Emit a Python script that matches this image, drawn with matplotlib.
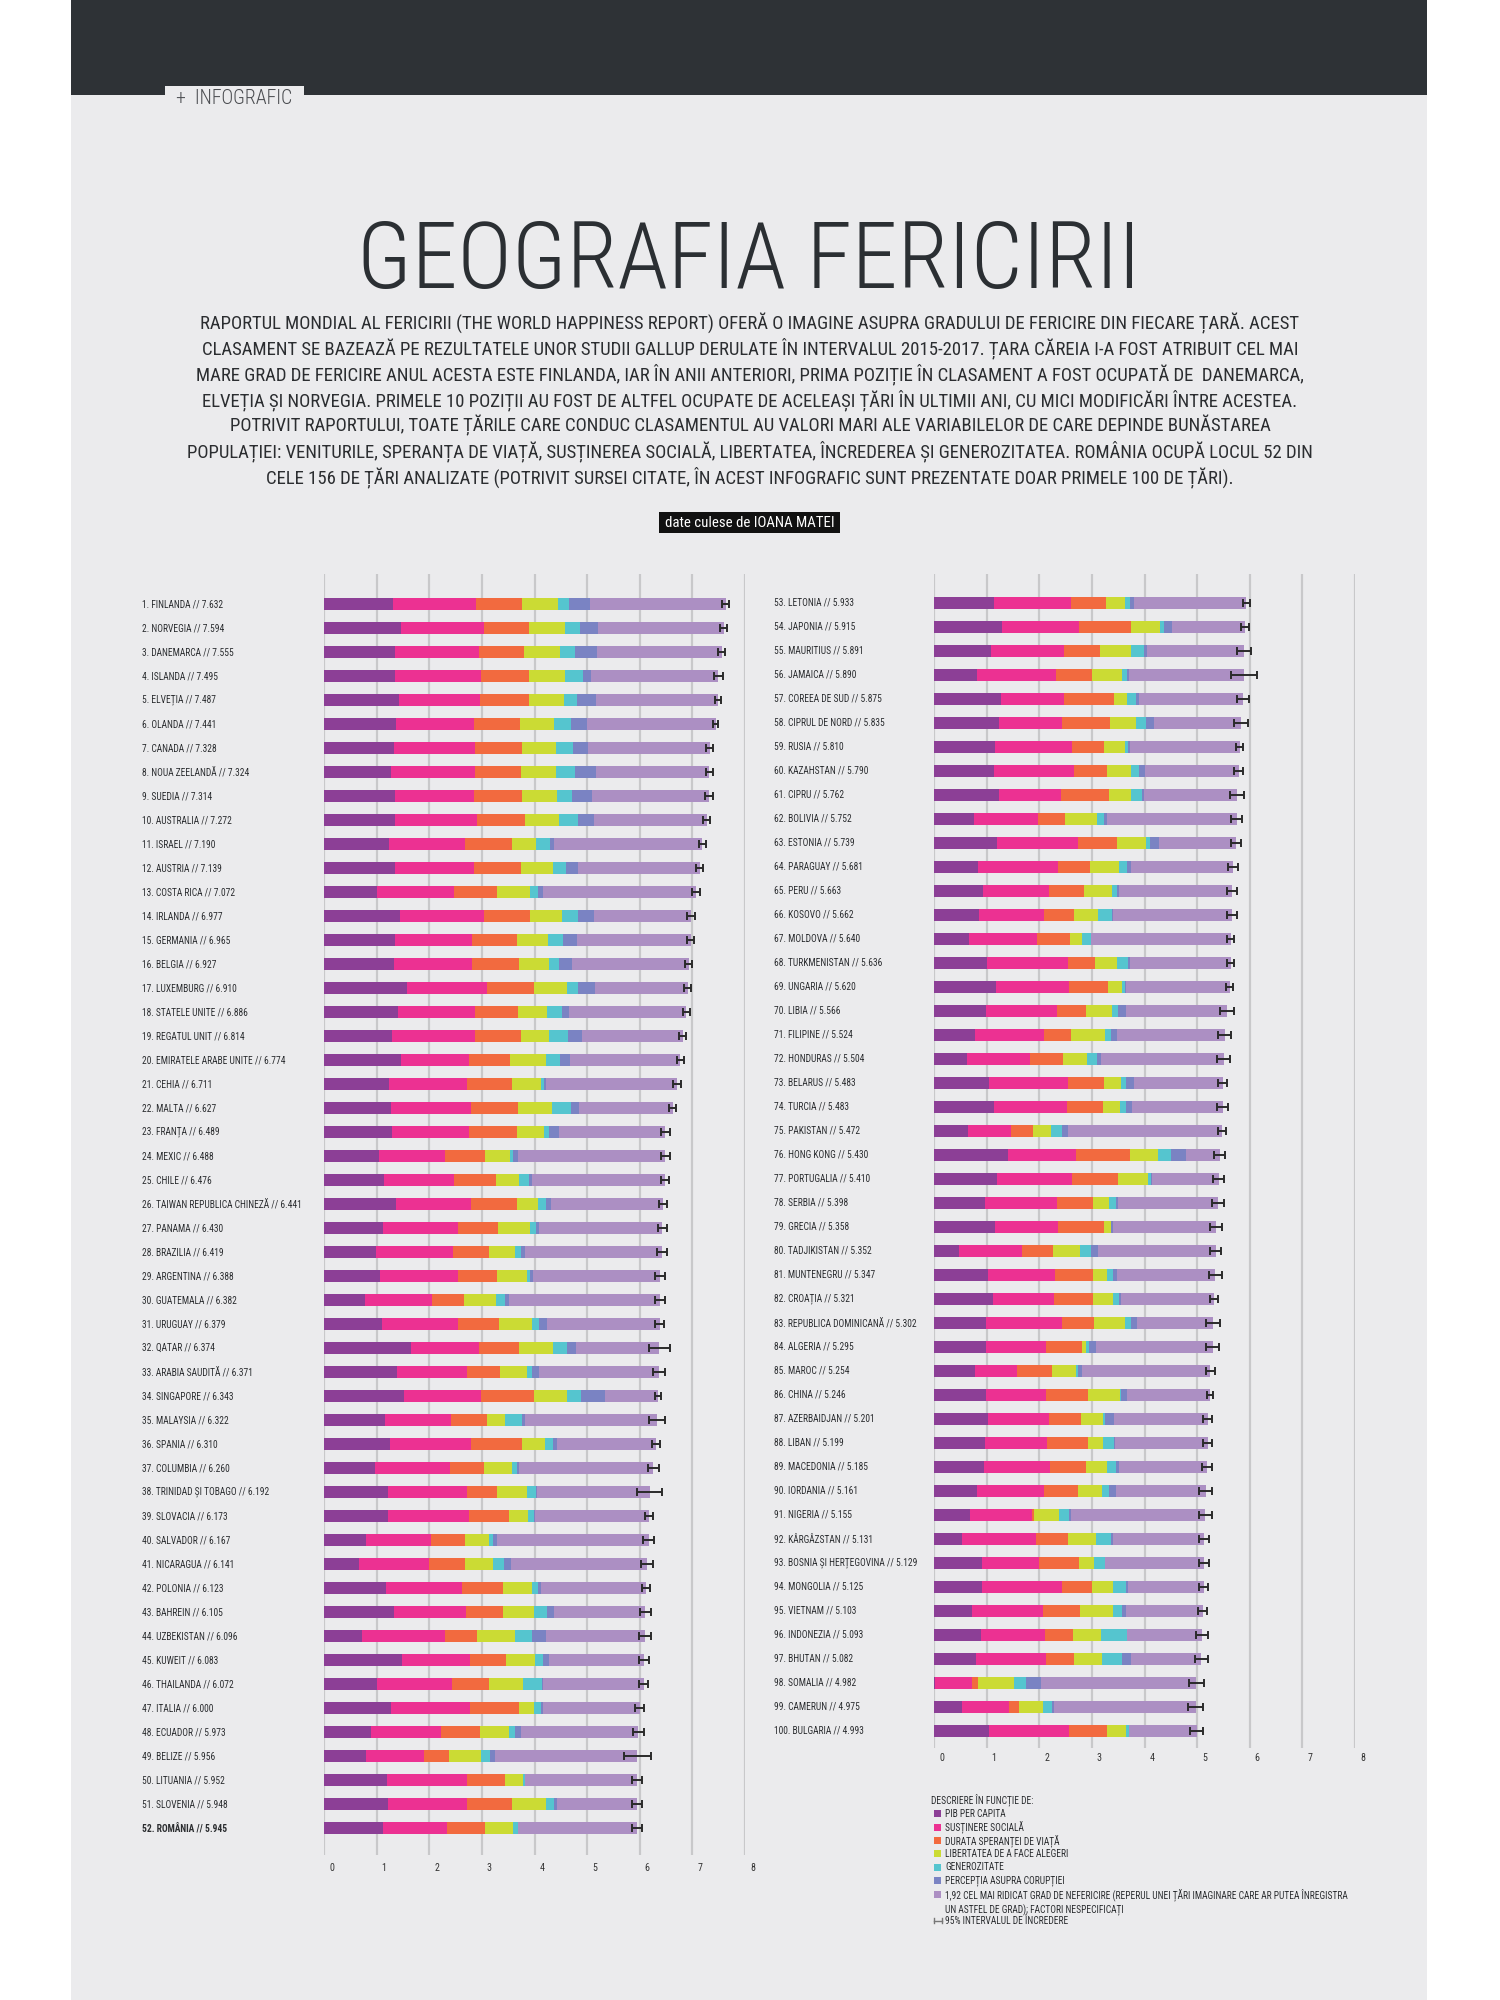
import matplotlib
matplotlib.use("Agg")
import matplotlib.pyplot as plt
from matplotlib import font_manager
from matplotlib.patches import Rectangle
from matplotlib.lines import Line2D
from matplotlib.transforms import ScaledTranslation, blended_transform_factory

# ---------------- DATA ----------------
names = [
    "FINLANDA", "NORVEGIA", "DANEMARCA", "ISLANDA", "ELVEȚIA", "OLANDA", "CANADA",
    "NOUA ZEELANDĂ", "SUEDIA", "AUSTRALIA", "ISRAEL", "AUSTRIA", "COSTA RICA",
    "IRLANDA", "GERMANIA", "BELGIA", "LUXEMBURG", "STATELE UNITE", "REGATUL UNIT",
    "EMIRATELE ARABE UNITE", "CEHIA", "MALTA", "FRANȚA", "MEXIC", "CHILE",
    "TAIWAN REPUBLICA CHINEZĂ", "PANAMA", "BRAZILIA", "ARGENTINA", "GUATEMALA",
    "URUGUAY", "QATAR", "ARABIA SAUDITĂ", "SINGAPORE", "MALAYSIA", "SPANIA",
    "COLUMBIA", "TRINIDAD ȘI TOBAGO", "SLOVACIA", "SALVADOR", "NICARAGUA",
    "POLONIA", "BAHREIN", "UZBEKISTAN", "KUWEIT", "THAILANDA", "ITALIA", "ECUADOR",
    "BELIZE", "LITUANIA", "SLOVENIA", "ROMÂNIA",
    "LETONIA", "JAPONIA", "MAURITIUS", "JAMAICA", "COREEA DE SUD", "CIPRUL DE NORD",
    "RUSIA", "KAZAHSTAN", "CIPRU", "BOLIVIA", "ESTONIA", "PARAGUAY", "PERU",
    "KOSOVO", "MOLDOVA", "TURKMENISTAN", "UNGARIA", "LIBIA", "FILIPINE", "HONDURAS",
    "BELARUS", "TURCIA", "PAKISTAN", "HONG KONG", "PORTUGALIA", "SERBIA", "GRECIA",
    "TADJIKISTAN", "MUNTENEGRU", "CROAȚIA", "REPUBLICA DOMINICANĂ", "ALGERIA",
    "MAROC", "CHINA", "AZERBAIDJAN", "LIBAN", "MACEDONIA", "IORDANIA", "NIGERIA",
    "KÂRGÂZSTAN", "BOSNIA ȘI HERȚEGOVINA", "MONGOLIA", "VIETNAM", "INDONEZIA",
    "BHUTAN", "SOMALIA", "CAMERUN", "BULGARIA",
]
scores = [
    7.632, 7.594, 7.555, 7.495, 7.487, 7.441, 7.328, 7.324, 7.314, 7.272, 7.190, 7.139,
    7.072, 6.977, 6.965, 6.927, 6.910, 6.886, 6.814, 6.774, 6.711, 6.627, 6.489, 6.488,
    6.476, 6.441, 6.430, 6.419, 6.388, 6.382, 6.379, 6.374, 6.371, 6.343, 6.322, 6.310,
    6.260, 6.192, 6.173, 6.167, 6.141, 6.123, 6.105, 6.096, 6.083, 6.072, 6.000, 5.973,
    5.956, 5.952, 5.948, 5.945,
    5.933, 5.915, 5.891, 5.890, 5.875, 5.835, 5.810, 5.790, 5.762, 5.752, 5.739, 5.681,
    5.663, 5.662, 5.640, 5.636, 5.620, 5.566, 5.524, 5.504, 5.483, 5.483, 5.472, 5.430,
    5.410, 5.398, 5.358, 5.352, 5.347, 5.321, 5.302, 5.295, 5.254, 5.246, 5.201, 5.199,
    5.185, 5.161, 5.155, 5.131, 5.129, 5.125, 5.103, 5.093, 5.082, 4.982, 4.975, 4.993,
]
gdp = [
    1.305, 1.456, 1.351, 1.343, 1.420, 1.361, 1.330, 1.268, 1.355, 1.340, 1.244, 1.341,
    1.010, 1.448, 1.340, 1.324, 1.576, 1.398, 1.301, 1.460, 1.233, 1.270, 1.293, 1.038,
    1.131, 1.365, 1.112, 0.986, 1.073, 0.781, 1.093, 1.649, 1.379, 1.529, 1.161, 1.251,
    0.960, 1.223, 1.210, 0.806, 0.668, 1.176, 1.338, 0.719, 1.474, 1.016, 1.264, 0.889,
    0.807, 1.197, 1.219, 1.116,
    1.148, 1.294, 1.090, 0.819, 1.266, 1.229, 1.151, 1.143, 1.229, 0.751, 1.200, 0.835,
    0.934, 0.855, 0.657, 1.016, 1.171, 0.985, 0.775, 0.620, 1.039, 1.148, 0.652, 1.405,
    1.188, 0.975, 1.154, 0.474, 1.017, 1.115, 0.990, 0.979, 0.779, 0.989, 1.024, 0.970,
    0.959, 0.822, 0.689, 0.530, 0.915, 0.914, 0.715, 0.899, 0.796, 0.010, 0.535, 1.054,
]
social = [
    1.592, 1.582, 1.590, 1.644, 1.549, 1.488, 1.532, 1.601, 1.501, 1.573, 1.433, 1.504,
    1.459, 1.583, 1.474, 1.483, 1.520, 1.471, 1.559, 1.300, 1.489, 1.525, 1.466, 1.252,
    1.331, 1.436, 1.438, 1.474, 1.468, 1.268, 1.459, 1.303, 1.331, 1.451, 1.258, 1.538,
    1.439, 1.492, 1.537, 1.231, 1.319, 1.448, 1.366, 1.584, 1.301, 1.417, 1.501, 1.330,
    1.101, 1.527, 1.506, 1.219,
    1.454, 1.462, 1.387, 1.493, 1.204, 1.211, 1.479, 1.516, 1.191, 1.223, 1.532, 1.522,
    1.249, 1.230, 1.301, 1.533, 1.401, 1.350, 1.312, 1.205, 1.498, 1.380, 0.810, 1.290,
    1.429, 1.369, 1.202, 1.190, 1.279, 1.161, 1.440, 1.154, 0.797, 1.142, 1.161, 1.170,
    1.239, 1.265, 1.172, 1.416, 1.078, 1.517, 1.365, 1.215, 1.335, 0.712, 0.891, 1.515,
]
health = [
    0.874, 0.861, 0.868, 0.914, 0.927, 0.878, 0.896, 0.876, 0.913, 0.910, 0.888, 0.891,
    0.817, 0.876, 0.861, 0.894, 0.896, 0.819, 0.883, 0.780, 0.854, 0.884, 0.908, 0.761,
    0.808, 0.857, 0.759, 0.675, 0.744, 0.608, 0.771, 0.748, 0.633, 1.008, 0.669, 0.965,
    0.635, 0.564, 0.776, 0.639, 0.700, 0.781, 0.698, 0.605, 0.675, 0.707, 0.946, 0.736,
    0.474, 0.716, 0.856, 0.726,
    0.671, 0.988, 0.684, 0.693, 0.955, 0.909, 0.599, 0.631, 0.909, 0.508, 0.737, 0.615,
    0.674, 0.578, 0.620, 0.517, 0.732, 0.553, 0.513, 0.622, 0.700, 0.686, 0.424, 1.030,
    0.884, 0.685, 0.879, 0.600, 0.729, 0.737, 0.610, 0.687, 0.669, 0.799, 0.603, 0.780,
    0.691, 0.645, 0.048, 0.594, 0.758, 0.575, 0.702, 0.522, 0.527, 0.115, 0.182, 0.712,
]
freedom = [
    0.681, 0.686, 0.683, 0.677, 0.660, 0.638, 0.653, 0.669, 0.659, 0.647, 0.464, 0.617,
    0.632, 0.614, 0.586, 0.583, 0.632, 0.547, 0.533, 0.670, 0.543, 0.645, 0.520, 0.479,
    0.431, 0.418, 0.597, 0.493, 0.570, 0.604, 0.625, 0.654, 0.509, 0.631, 0.356, 0.449,
    0.531, 0.575, 0.354, 0.461, 0.527, 0.546, 0.594, 0.724, 0.554, 0.637, 0.281, 0.556,
    0.593, 0.350, 0.633, 0.528,
    0.363, 0.553, 0.584, 0.575, 0.244, 0.495, 0.399, 0.454, 0.423, 0.606, 0.553, 0.541,
    0.530, 0.448, 0.232, 0.417, 0.259, 0.496, 0.643, 0.459, 0.307, 0.324, 0.334, 0.524,
    0.562, 0.288, 0.131, 0.510, 0.259, 0.380, 0.590, 0.077, 0.460, 0.597, 0.430, 0.300,
    0.394, 0.468, 0.462, 0.540, 0.280, 0.395, 0.618, 0.538, 0.541, 0.674, 0.454, 0.359,
]
generosity = [
    0.202, 0.286, 0.284, 0.353, 0.256, 0.333, 0.321, 0.365, 0.285, 0.361, 0.262, 0.242,
    0.143, 0.307, 0.273, 0.188, 0.196, 0.291, 0.354, 0.280, 0.064, 0.376, 0.098, 0.069,
    0.197, 0.151, 0.125, 0.110, 0.062, 0.179, 0.130, 0.256, 0.098, 0.261, 0.311, 0.142,
    0.099, 0.171, 0.118, 0.065, 0.208, 0.108, 0.243, 0.328, 0.167, 0.364, 0.137, 0.114,
    0.183, 0.026, 0.160, 0.088,
    0.092, 0.079, 0.245, 0.096, 0.175, 0.179, 0.065, 0.148, 0.202, 0.141, 0.086, 0.162,
    0.092, 0.274, 0.171, 0.199, 0.061, 0.116, 0.120, 0.197, 0.101, 0.106, 0.216, 0.246,
    0.055, 0.134, 0.000, 0.200, 0.111, 0.120, 0.110, 0.055, 0.026, 0.029, 0.031, 0.200,
    0.173, 0.130, 0.201, 0.281, 0.216, 0.253, 0.177, 0.484, 0.364, 0.238, 0.183, 0.064,
]
corruption = [
    0.393, 0.340, 0.408, 0.138, 0.357, 0.295, 0.291, 0.389, 0.383, 0.302, 0.082, 0.224,
    0.101, 0.306, 0.280, 0.240, 0.321, 0.133, 0.272, 0.190, 0.034, 0.142, 0.176, 0.095,
    0.061, 0.078, 0.063, 0.088, 0.054, 0.071, 0.155, 0.171, 0.127, 0.457, 0.059, 0.074,
    0.039, 0.019, 0.014, 0.082, 0.128, 0.064, 0.123, 0.259, 0.106, 0.029, 0.028, 0.120,
    0.089, 0.006, 0.051, 0.001,
    0.066, 0.150, 0.050, 0.031, 0.051, 0.154, 0.025, 0.121, 0.035, 0.054, 0.174, 0.074,
    0.034, 0.023, 0.000, 0.037, 0.022, 0.148, 0.105, 0.074, 0.154, 0.109, 0.113, 0.291,
    0.017, 0.043, 0.034, 0.140, 0.081, 0.039, 0.110, 0.135, 0.074, 0.103, 0.176, 0.027,
    0.052, 0.134, 0.032, 0.035, 0.000, 0.032, 0.079, 0.018, 0.171, 0.282, 0.043, 0.009,
]
ci_half = [
    0.06, 0.06, 0.06, 0.09, 0.06, 0.05, 0.07, 0.07, 0.07, 0.07, 0.07, 0.07,
    0.07, 0.07, 0.06, 0.07, 0.06, 0.07, 0.07, 0.07, 0.07, 0.07, 0.08, 0.08,
    0.08, 0.08, 0.09, 0.09, 0.10, 0.10, 0.08, 0.20, 0.11, 0.06, 0.15, 0.07,
    0.10, 0.24, 0.08, 0.11, 0.12, 0.08, 0.10, 0.11, 0.10, 0.09, 0.09, 0.11,
    0.25, 0.09, 0.10, 0.10,
    0.07, 0.08, 0.13, 0.25, 0.11, 0.13, 0.07, 0.09, 0.13, 0.11, 0.09, 0.10,
    0.10, 0.10, 0.07, 0.06, 0.07, 0.14, 0.12, 0.13, 0.08, 0.11, 0.07, 0.10,
    0.11, 0.11, 0.11, 0.10, 0.12, 0.08, 0.14, 0.13, 0.09, 0.06, 0.08, 0.09,
    0.09, 0.12, 0.12, 0.10, 0.10, 0.08, 0.08, 0.12, 0.12, 0.14, 0.14, 0.12,
]
x_ticks = [0, 1, 2, 3, 4, 5, 6, 7, 8]
legend_labels = [
    "PIB PER CAPITA",
    "SUSȚINERE SOCIALĂ",
    "DURATA SPERANȚEI DE VIAȚĂ",
    "LIBERTATEA DE A FACE ALEGERI",
    "GENEROZITATE",
    "PERCEPȚIA ASUPRA CORUPȚIEI",
    "1,92 CEL MAI RIDICAT GRAD DE NEFERICIRE (REPERUL UNEI ȚĂRI IMAGINARE CARE AR PUTEA ÎNREGISTRA\nUN ASTFEL DE GRAD); FACTORI NESPECIFICAȚI",
]
title = "GEOGRAFIA FERICIRII"
intro_lines = [
    "RAPORTUL MONDIAL AL FERICIRII (THE WORLD HAPPINESS REPORT) OFERĂ O IMAGINE ASUPRA GRADULUI DE FERICIRE DIN FIECARE ȚARĂ. ACEST",
    "CLASAMENT SE BAZEAZĂ PE REZULTATELE UNOR STUDII GALLUP DERULATE ÎN INTERVALUL 2015-2017. ȚARA CĂREIA I-A FOST ATRIBUIT CEL MAI",
    "MARE GRAD DE FERICIRE ANUL ACESTA ESTE FINLANDA, IAR ÎN ANII ANTERIORI, PRIMA POZIȚIE ÎN CLASAMENT A FOST OCUPATĂ DE  DANEMARCA,",
    "ELVEȚIA ȘI NORVEGIA. PRIMELE 10 POZIȚII AU FOST DE ALTFEL OCUPATE DE ACELEAȘI ȚĂRI ÎN ULTIMII ANI, CU MICI MODIFICĂRI ÎNTRE ACESTEA.",
    "POTRIVIT RAPORTULUI, TOATE ȚĂRILE CARE CONDUC CLASAMENTUL AU VALORI MARI ALE VARIABILELOR DE CARE DEPINDE BUNĂSTAREA",
    "POPULAȚIEI: VENITURILE, SPERANȚA DE VIAȚĂ, SUSȚINEREA SOCIALĂ, LIBERTATEA, ÎNCREDEREA ȘI GENEROZITATEA. ROMÂNIA OCUPĂ LOCUL 52 DIN",
    "CELE 156 DE ȚĂRI ANALIZATE (POTRIVIT SURSEI CITATE, ÎN ACEST INFOGRAFIC SUNT PREZENTATE DOAR PRIMELE 100 DE ȚĂRI).",
]

# ---------------- STYLE ----------------
COLORS = ["#8C3F96", "#EC3192", "#F26A3F", "#CBDB34", "#55C5CF", "#7A83C3", "#AC8FC3"]
BG = "#EBEBED"
HEADER = "#2E3236"
GRID = "#C8C8CA"
TEXT = "#2B2D30"

avail = {f.name for f in font_manager.fontManager.ttflist}
dejavu_cond = any(f.name == "DejaVu Sans" and "condensed" in str(f.stretch)
                  for f in font_manager.fontManager.ttflist)
NARROW = None
for cand in ["Roboto Condensed", "Liberation Sans Narrow", "Open Sans Condensed",
             "Noto Sans Condensed", "DejaVu Sans Condensed"]:
    if cand in avail:
        NARROW = dict(family=cand)
        break
if NARROW is None:
    if dejavu_cond:
        NARROW = dict(family="DejaVu Sans", stretch="condensed")
    else:
        NARROW = dict(family="Liberation Sans")

W, H = 1500, 2000
fig = plt.figure(figsize=(15, 20), dpi=100)
fig.patch.set_facecolor("white")


def fx(px):
    return px / W


def fy(py):
    return 1 - py / H


def rect(x0, y0, x1, y1, color, z=0):
    fig.patches.append(Rectangle((fx(x0), fy(y1)), fx(x1) - fx(x0), fy(y0) - fy(y1),
                                 transform=fig.transFigure, facecolor=color,
                                 edgecolor="none", zorder=z))


# page background, header and tab
rect(71, 0, 1427, 2000, BG, z=-3)
rect(71, 0, 1427, 95, HEADER, z=-2)
rect(165, 86, 304, 96, BG, z=-1)

renderer = fig.canvas.get_renderer()


def fit(t, target_w):
    bb = t.get_window_extent(renderer)
    t.set_fontsize(t.get_fontsize() * target_w / bb.width)
    return t.get_fontsize()


tab = fig.text(fx(176), fy(99), "+  INFOGRAFIC", color="#4A4C50", va="center",
               ha="left", fontsize=9, fontweight="light", **NARROW)
fit(tab, 117)

tt = fig.text(fx(749), fy(288), title, ha="center", va="baseline", color="#2B2F33",
              fontsize=60, fontweight="light", **NARROW)
fit(tt, 785)

para = []
for k, line in enumerate(intro_lines):
    t = fig.text(fx(750), fy(329 + 25.7 * k), line, ha="center", va="baseline",
                 color=TEXT, fontsize=12, **NARROW)
    para.append(t)
psize = fit(para[0], 1098)
for t in para[1:]:
    t.set_fontsize(psize)

rect(659, 512, 840, 533, "#111111", z=1)
cred = fig.text(fx(749.5), fy(523), "date culese de IOANA MATEI", ha="center",
                va="center", color="white", fontsize=10, zorder=2, **NARROW)
fit(cred, 168)

# label size derived from a reference label
probe = fig.text(0, 0, "1. FINLANDA // 7.632", fontsize=8, **NARROW)
LSIZE = fit(probe, 82)
probe.remove()

# ---------------- CHART PANELS ----------------
components = [gdp, social, health, freedom, generosity, corruption]
n_left = 52
panels = [
    dict(rows=range(0, n_left), x0=324, top=574, bottom=1855, first=604, label_x=142,
         tick_pad=5.5),
    dict(rows=range(n_left, len(names)), x0=934, top=574, bottom=1748, first=603,
         label_x=774, tick_pad=3.5),
]
STEP = 24.0
for p in panels:
    ax = fig.add_axes([fx(p["x0"]), fy(p["bottom"]), 421 / W,
                       (p["bottom"] - p["top"]) / H])
    ax.set_facecolor("none")
    ax.set_xlim(x_ticks[0], x_ticks[-1])
    ax.set_ylim((p["bottom"] - p["first"]) / STEP, -(p["first"] - p["top"]) / STEP)
    for s in ax.spines.values():
        s.set_visible(False)
    ax.set_yticks([])
    ax.set_xticks(x_ticks)
    ax.set_xticklabels([str(v) for v in x_ticks], fontsize=LSIZE * 1.05, color="#333333",
                       **NARROW)
    ax.tick_params(axis="x", length=0, pad=p["tick_pad"])
    off = ScaledTranslation(7.5 / 100, 0, fig.dpi_scale_trans)
    for lab in ax.get_xticklabels():
        lab.set_transform(lab.get_transform() + off)
    ax.grid(axis="x", color=GRID, linewidth=1.6, zorder=0)
    ax.set_axisbelow(True)

    idx = list(p["rows"])
    ys = [i - idx[0] for i in idx]
    left = [0.0] * len(idx)
    for comp, col in zip(components, COLORS[:6]):
        vals = [comp[i] for i in idx]
        ax.barh(ys, vals, left=left, height=0.48, color=col, linewidth=0, zorder=2)
        left = [a + b for a, b in zip(left, vals)]
    rest = [scores[i] - l for i, l in zip(idx, left)]
    ax.barh(ys, rest, left=left, height=0.48, color=COLORS[6], linewidth=0, zorder=2)
    ax.errorbar([scores[i] for i in idx], ys, xerr=[ci_half[i] for i in idx], fmt="none",
                ecolor="#2A2A2A", elinewidth=1.4, capsize=2.8, capthick=1.4, zorder=3)

    tr = blended_transform_factory(fig.transFigure, ax.transData)
    for i, y in zip(idx, ys):
        ax.text(fx(p["label_x"]), y, f"{i + 1}. {names[i]} // {scores[i]:.3f}",
                transform=tr, ha="left", va="center", fontsize=LSIZE, color=TEXT,
                fontweight="bold" if names[i] == "ROMÂNIA" else "normal", **NARROW)

# ---------------- LEGEND ----------------
fig.text(fx(931), fy(1800), "DESCRIERE ÎN FUNCȚIE DE:", ha="left", va="center",
         fontsize=LSIZE, color=TEXT, **NARROW)
ly = 1813.7
for lab, col in zip(legend_labels, COLORS):
    rect(934, ly - 3.5, 941, ly + 3.5, col, z=1)
    fig.text(fx(945), fy(ly), lab, ha="left", va="top" if "\n" in lab else "center",
             fontsize=LSIZE, color=TEXT, linespacing=1.45, **NARROW)
    if "\n" in lab:
        fig.texts[-1].set_y(fy(ly - 6))
        ly += 13.4
    ly += 13.4
fig.lines.append(Line2D([fx(934), fx(942)], [fy(ly), fy(ly)], transform=fig.transFigure,
                        color="#777777", linewidth=1.0))
for xx in (934, 942):
    fig.lines.append(Line2D([fx(xx), fx(xx)], [fy(ly - 2.5), fy(ly + 2.5)],
                            transform=fig.transFigure, color="#777777", linewidth=1.0))
fig.text(fx(945), fy(ly), "95% INTERVALUL DE ÎNCREDERE", ha="left", va="center",
         fontsize=LSIZE, color=TEXT, **NARROW)

fig.savefig("out.png", dpi=100, facecolor=fig.get_facecolor())
